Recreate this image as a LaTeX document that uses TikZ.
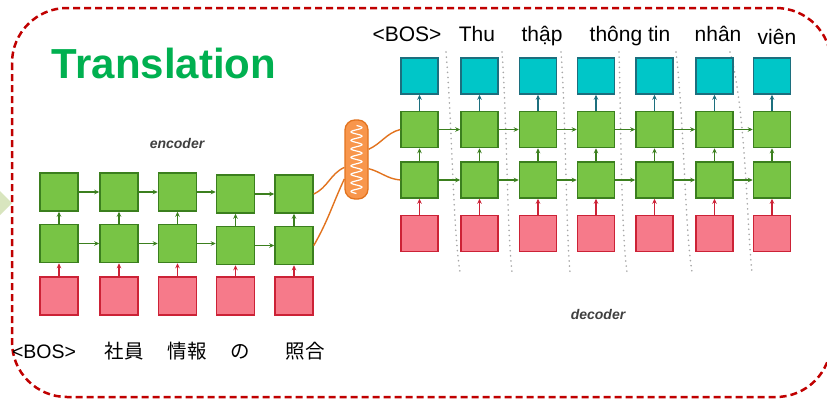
\documentclass[tikz,border=0pt]{standalone}
\usepackage{fontspec}
\setmainfont{Liberation Sans}
\newfontfamily\jpfont{Noto Sans CJK JP}
\usetikzlibrary{arrows.meta}
\definecolor{gfill}{HTML}{78C445}
\definecolor{gdraw}{HTML}{3B7F1E}
\definecolor{pfill}{HTML}{F67A8A}
\definecolor{pdraw}{HTML}{CC2236}
\definecolor{tfill}{HTML}{00C6C8}
\definecolor{tdraw}{HTML}{1C6F7E}
\definecolor{oframe}{HTML}{C00000}
\definecolor{ttl}{HTML}{00B050}
\definecolor{orfill}{HTML}{F8964C}
\definecolor{ordraw}{HTML}{E2731E}
\definecolor{trigreen}{HTML}{D8E5BE}
\tikzset{
  cell/.style={minimum width=38pt, minimum height=38pt, inner sep=0pt, line width=1.5pt},
  dcell/.style={cell, minimum width=37pt, minimum height=36pt},
  gcell/.style={fill=gfill, draw=gdraw},
  pcell/.style={fill=pfill, draw=pdraw},
  tcell/.style={fill=tfill, draw=tdraw},
  garr/.style={-{Stealth[length=5pt,width=4.5pt]}, draw=gdraw, line width=1.5pt},
  parr/.style={-{Stealth[length=5pt,width=4.5pt]}, draw=pdraw, line width=1.5pt},
  tarr/.style={-{Stealth[length=5pt,width=4.5pt]}, draw=tdraw, line width=1.5pt},
  orline/.style={draw=ordraw, line width=1.4pt},
  sep/.style={draw=black!35, line width=1.7pt, line cap=round, dash pattern=on 0.1pt off 5pt},
  tube/.style={fill=orfill, draw=ordraw, line width=1.3pt, rounded corners=10pt,
    minimum width=23pt, minimum height=79pt, inner sep=0pt},
  enclbl/.style={anchor=base, font=\fontsize{19.5}{20}\selectfont},
  declbl/.style={anchor=base, font=\fontsize{21}{22}\selectfont},
  tag/.style={font=\fontsize{14}{14}\selectfont\bfseries\itshape, text=black!75}
}
\begin{document}
\begin{tikzpicture}[x=1pt,y=-1pt]
\clip (0,0) rectangle (827,399);
\fill[white] (0,0) rectangle (827,399);
% frame
\draw[oframe, line width=2.5pt, dash pattern=on 7pt off 4pt, rounded corners=55pt]
  (12,8) rectangle (831,397);
\fill[trigreen] (0,191) -- (12,203) -- (0,215) -- cycle;
% title
\node[anchor=base, font=\fontsize{42}{42}\selectfont\bfseries, text=ttl] (title) at (164,78) {Translation};
% encoder
\foreach \i/\x/\dy in {1/59/0,2/119/0,3/177.5/0,4/235.5/2,5/294/2} {
  \node[cell,gcell] (et\i) at (\x,192+\dy) {};
  \node[cell,gcell] (em\i) at (\x,243.5+\dy) {};
  \node[cell,pcell] (ep\i) at (\x,296) {};
  \draw[parr] (ep\i.north) -- (em\i.south);
  \draw[garr] (em\i.north) -- (et\i.south);
}
\foreach \a/\b in {1/2,2/3,3/4,4/5} {
  \draw[garr] (et\a.east) -- (et\a.east -| et\b.west);
  \draw[garr] (em\a.east) -- (em\a.east -| em\b.west);
}
\node[tag] (enc) at (177,143) {encoder};
\node[enclbl] (w1) at (44,358) {<BOS>};
\node[enclbl] (w2) at (124,358) {\jpfont 社員};
\node[enclbl] (w3) at (187,358) {\jpfont 情報};
\node[enclbl] (w4) at (240,358) {\jpfont の};
\node[enclbl] (w5) at (305,358) {\jpfont 照合};
% separators
\draw[sep] (446,52) .. controls (452,120) and (453,230) .. (460,272);
\draw[sep] (502,52) .. controls (507,120) and (507,230) .. (512,272);
\draw[sep] (561,52) .. controls (566,120) and (566,230) .. (570,272);
\draw[sep] (619,52) .. controls (621,120) and (621,230) .. (627,272);
\draw[sep] (676,52) .. controls (684,120) and (685,230) .. (692,272);
\draw[sep] (730,52) .. controls (746,110) and (747,230) .. (752,272);
% decoder
\foreach \i/\x in {1/419.5,2/479.5,3/538,4/596,5/654.5,6/714.5,7/772} {
  \node[dcell,tcell] (dt\i) at (\x,76) {};
  \node[dcell,gcell] (dg\i) at (\x,129.5) {};
  \node[dcell,gcell] (dh\i) at (\x,180) {};
  \node[dcell,pcell] (dp\i) at (\x,233.5) {};
  \draw[parr] (dp\i.north) -- (dh\i.south);
  \draw[garr] (dh\i.north) -- (dg\i.south);
  \draw[tarr] (dg\i.north) -- (dt\i.south);
}
\foreach \a/\b in {1/2,2/3,3/4,4/5,5/6,6/7} {
  \draw[garr] (dg\a.east) -- (dg\b.west);
  \draw[garr] (dh\a.east) -- (dh\b.west);
}
\node[tag] (dec) at (598,314) {decoder};
\node[declbl] (v1) at (407,41) {<BOS>};
\node[declbl] (v2) at (477,41) {Thu};
\node[declbl] (v3) at (542,41) {thập};
\node[declbl] (v4) at (630,41) {thông tin};
\node[declbl] (v5) at (718,41) {nhân};
\node[declbl] (v6) at (777,44) {viên};
% context tube
\node[tube] (ctx) at (356.5,159.5) {};
\draw[white, line width=1.2pt] plot[domain=0:68, samples=160, smooth]
  ({356.5+5.5*sin(\x*42.35)},{125.5+\x});
\draw[orline] (et5.east) to[out=25,in=205] (ctx.213);
\draw[orline] (em5.east) to[out=60,in=245] (ctx.238);
\draw[orline] (ctx.40) to[out=25,in=195] (dg1.west);
\draw[orline] (ctx.323) to[out=-15,in=175] (dh1.west);
\end{tikzpicture}
\end{document}
